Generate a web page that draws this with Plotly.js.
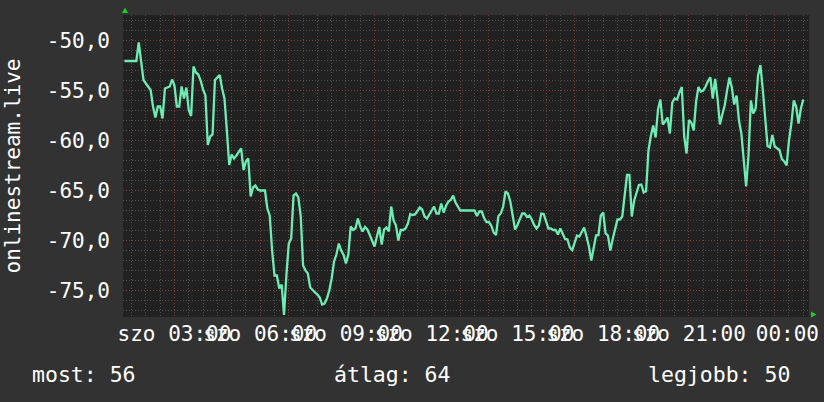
<!DOCTYPE html>
<html><head><meta charset="utf-8">
<script src="https://cdn.plot.ly/plotly-3.0.1.min.js"></script>
<style>html,body{margin:0;padding:0;background:#323232;}#chart{width:824px;height:402px;}</style>
</head><body><div id="chart"></div>
<script>
// time axis: hours since szo 00:00, samples every 5 minutes from 01:15
const START_HOUR = 1.25;
const STEP_HOURS = 5 / 60;
const values = [
  -52.05,-52.05,-52.05,-52.05,-52.05,-52.05,-50.2,-52.3,-53.95,-54.3,-54.6,-54.95,
  -56.6,-57.7,-56.6,-56.6,-57.8,-54.8,-54.7,-54.6,-53.9,-54.5,-56.6,-56.6,
  -54.6,-55.8,-54.7,-56.95,-57.55,-52.6,-53.2,-53.4,-54.0,-54.9,-55.5,-60.45,
  -59.6,-59.4,-53.95,-53.7,-53.45,-54.8,-55.8,-59.0,-62.45,-61.4,-61.8,-61.5,
  -61.2,-60.8,-62.95,-62.1,-61.8,-65.6,-64.7,-64.5,-64.9,-65.0,-65.0,-65.0,
  -66.8,-67.5,-71.0,-73.5,-73.5,-74.8,-74.4,-77.45,-73.45,-70.3,-69.8,-65.5,
  -65.3,-65.7,-67.5,-72.5,-73.0,-73.3,-74.7,-75.0,-75.2,-75.4,-75.7,-76.4,
  -76.3,-75.8,-75.0,-73.8,-72.1,-71.4,-70.3,-71.0,-71.45,-72.3,-71.4,-68.6,
  -68.95,-68.8,-67.8,-68.6,-69.1,-68.65,-68.9,-69.45,-70.1,-70.6,-69.6,-68.65,
  -70.4,-68.9,-68.7,-69.1,-66.6,-68.0,-68.5,-70.0,-68.95,-68.95,-68.8,-68.3,
  -67.35,-67.45,-67.4,-67.1,-66.7,-66.9,-67.6,-67.8,-67.4,-67.05,-66.6,-67.3,
  -67.3,-66.3,-67.2,-66.55,-66.1,-65.95,-65.5,-66.2,-66.6,-67.0,-67.0,-67.0,
  -67.0,-67.0,-67.0,-67.0,-67.55,-67.1,-67.1,-67.75,-68.15,-68.15,-68.5,-69.2,
  -69.45,-67.55,-67.3,-66.6,-65.1,-65.3,-66.1,-67.7,-68.9,-68.45,-67.8,-67.3,
  -67.3,-67.65,-67.5,-67.9,-68.45,-68.8,-68.5,-67.3,-67.35,-68.15,-68.8,-68.8,
  -68.95,-68.95,-69.4,-68.8,-69.35,-69.85,-69.9,-70.7,-70.95,-70.1,-69.5,-69.6,
  -69.15,-68.7,-69.6,-70.6,-72.0,-70.7,-69.5,-69.45,-67.5,-67.2,-69.3,-69.5,
  -71.0,-69.85,-68.8,-67.9,-67.9,-67.6,-65.5,-63.45,-63.45,-67.6,-66.0,-65.3,
  -64.45,-64.4,-65.2,-65.05,-61.0,-59.55,-58.5,-59.7,-56.9,-55.9,-58.4,-58.1,
  -57.7,-59.3,-56.2,-55.8,-55.9,-55.2,-54.65,-59.6,-61.3,-57.95,-58.2,-59.0,
  -56.1,-54.65,-55.1,-55.0,-54.6,-54.05,-53.7,-55.8,-53.85,-55.8,-58.4,-57.4,
  -56.5,-55.0,-53.7,-54.7,-56.4,-55.5,-58.0,-59.3,-62.0,-64.6,-61.5,-56.0,
  -57.3,-56.8,-53.5,-52.45,-54.9,-57.5,-60.55,-60.7,-59.45,-60.6,-60.75,-60.95,
  -61.85,-62.1,-62.5,-60.0,-58.3,-56.0,-56.6,-58.3,-56.8,-55.9
];
const xTickVals = [2,3,4,5,6,7,8,9,10,11,12,13,14,15,16,17,18,19,20,21,22,23,24,25];
const xTickText = ['', 'szo 03:00', '', '', 'szo 06:00', '', '', 'szo 09:00', '', '',
  'szo 12:00', '', '', 'szo 15:00', '', '', 'szo 18:00', '', '', 'szo 21:00', '', '',
  '\u00a0\u00a000:00', ''];
const yTickVals = [-75, -70, -65, -60, -55, -50];
const yTickText = ['-75,0', '-70,0', '-65,0', '-60,0', '-55,0', '-50,0'];
const yTitle = 'onlinestream.live';
const summaryLabels = ['most', 'átlag', 'legjobb'];
const summaryValues = [56, 64, 50];
const summaryX = [-0.136, 0.304, 0.763];

const FONT = 'DejaVu Sans Mono, monospace';
const MAJOR = 'rgba(135,55,55,0.8)';
const MINOR = 'rgba(85,85,85,0.85)';
const DASH = '1px,2px';

const trace = {
  type: 'scatter', mode: 'lines',
  x0: START_HOUR, dx: STEP_HOURS, y: values,
  line: {color: '#6eecb4', width: 2.3},
  hoverinfo: 'skip'
};

const layout = {
  width: 824, height: 402,
  margin: {l: 123, r: 15, t: 15, b: 85},
  paper_bgcolor: '#323232', plot_bgcolor: '#212121',
  font: {family: FONT, size: 21, color: '#ffffff'},
  showlegend: false,
  xaxis: {
    range: [1.2, 25.2], tickmode: 'array', tickvals: xTickVals, ticktext: xTickText,
    tickangle: 0, showgrid: true, gridcolor: MAJOR, griddash: DASH, gridwidth: 1,
    zeroline: false, showline: false, ticks: '', ticklabelstandoff: 2,
    tickfont: {family: FONT, size: 21, color: '#ffffff'},
    minor: {dtick: 0.5, tick0: 0, showgrid: true, gridcolor: MINOR, griddash: DASH, gridwidth: 1}
  },
  yaxis: {
    range: [-77.65, -47.45], tickmode: 'array', tickvals: yTickVals, ticktext: yTickText,
    showgrid: true, gridcolor: MAJOR, griddash: DASH, gridwidth: 1,
    zeroline: false, showline: false, ticks: '', ticklabelstandoff: 12,
    tickfont: {family: FONT, size: 21, color: '#ffffff'},
    minor: {dtick: 1, tick0: 0, showgrid: true, gridcolor: MINOR, griddash: DASH, gridwidth: 1},
    title: {text: yTitle, font: {family: FONT, size: 21, color: '#ffffff'}, standoff: 20}
  },
  shapes: [
    {type: 'path', xref: 'paper', yref: 'paper', xsizemode: 'pixel', ysizemode: 'pixel',
     xanchor: 0, yanchor: 1, path: 'M -1 2 L 5 2 L 2 7.5 Z', fillcolor: '#22cc22', line: {width: 0}},
    {type: 'path', xref: 'paper', yref: 'paper', xsizemode: 'pixel', ysizemode: 'pixel',
     xanchor: 1, yanchor: 0, path: 'M 2 -0.5 L 2 5.5 L 7.5 2.5 Z', fillcolor: '#22cc22', line: {width: 0}}
  ],
  annotations: summaryLabels.map((lab, i) => ({
    xref: 'paper', yref: 'paper', x: summaryX[i], y: -0.189,
    xanchor: 'left', yanchor: 'middle', showarrow: false,
    text: lab + ': ' + summaryValues[i],
    font: {family: FONT, size: 21.5, color: '#ffffff'}
  }))
};

Plotly.newPlot('chart', [trace], layout, {displayModeBar: false, staticPlot: true});
</script>
</body></html>
